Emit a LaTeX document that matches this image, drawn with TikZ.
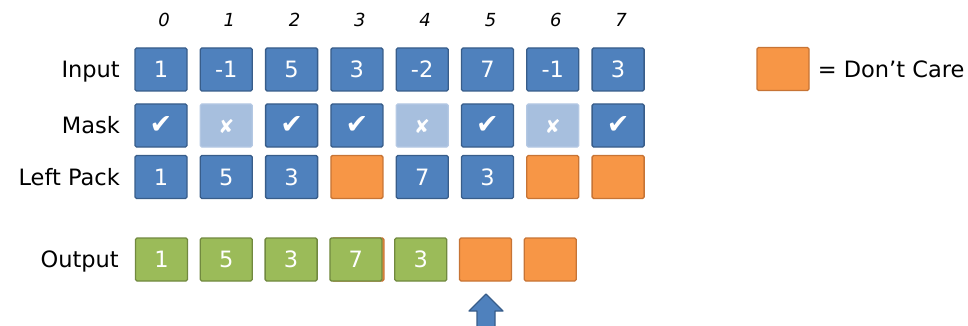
\documentclass[tikz,border=0pt]{standalone}
\usepackage{fontspec}
\setmainfont{DejaVu Sans}
\usetikzlibrary{positioning}

\definecolor{cblue}{HTML}{4F81BD}
\definecolor{cblueline}{HTML}{385D8A}
\definecolor{clight}{HTML}{A7BFDE}
\definecolor{clightline}{HTML}{B4C8E3}
\definecolor{corange}{HTML}{F79646}
\definecolor{corangeline}{HTML}{C77435}
\definecolor{cgreen}{HTML}{9BBB59}
\definecolor{cgreenline}{HTML}{71893F}

\newcommand{\chk}{{\fontsize{27}{28}\selectfont ✔}}
\newcommand{\crs}{{\fontsize{19}{20}\selectfont ✘}}

\begin{document}
\begin{tikzpicture}[x=1pt,y=-1pt,line join=round,
  cell/.style={minimum width=52pt,minimum height=43pt,inner sep=0pt,
    rounded corners=1.5pt,line width=1.3pt,text=white,
    font=\fontsize{22.5}{26}\selectfont,text height=16.4pt,text depth=0pt},
  on/.style={cell,fill=cblue,draw=cblueline},
  off/.style={cell,fill=clight,draw=clightline},
  dc/.style={cell,fill=corange,draw=corangeline},
  done/.style={cell,fill=cgreen,draw=cgreenline},
  rowlabel/.style={anchor=east,inner sep=0pt,font=\fontsize{22.5}{26}\selectfont,
    text height=16.4pt,text depth=0pt},
  idx/.style={font=\fontsize{18}{20}\selectfont\itshape}]
  \useasboundingbox (0,0) rectangle (968,326);

  % column numbers
  \foreach \i in {0,...,7}
    \node[idx] (idx\i) at ({164+65.3*\i},20) {\i};

  % row labels
  \node[rowlabel] (lblin)  at (120,69.5)  {Input};
  \node[rowlabel] (lblmk)  at (120,125.5) {Mask};
  \node[rowlabel] (lbllp)  at (120,177)   {Left Pack};
  \node[rowlabel] (lblout) at (119,259.5) {Output};

  % input, mask, left pack
  \foreach \v [count=\i from 0] in {1,-1,5,3,-2,7,-1,3}
    \node[on] (in\i) at ({161+65.3*\i},69.5) {\v};
  \foreach \s/\m [count=\i from 0] in {on/\chk,off/\crs,on/\chk,on/\chk,off/\crs,on/\chk,off/\crs,on/\chk}
    \node[\s] (mk\i) at ({161+65.3*\i},125.5) {\m};
  \foreach \s/\v [count=\i from 0] in {on/1,on/5,on/3,dc/{},on/7,on/3,dc/{},dc/{}}
    \node[\s] (lp\i) at ({161+65.3*\i},177) {\v};

  % output
  \node[dc] (outbg) at ({161.5+64.8*3+2},259.5) {};
  \foreach \s/\v [count=\i from 0] in {done/1,done/5,done/3,done/7,done/3,dc/{},dc/{}}
    \node[\s] (out\i) at ({161.5+64.8*\i},259.5) {\v};

  \draw[fill=cblue,draw=cblueline,line width=1.2pt]
    (486,294) -- (503,311) -- (495,311) -- (495,330) -- (477,330) -- (477,311) -- (469,311) -- cycle;

  % legend
  \node[dc] (key) at (783,69) {};
  \node[rowlabel,anchor=west,right=8pt of key] (keytxt) {= Don’t Care};
\end{tikzpicture}
\end{document}
